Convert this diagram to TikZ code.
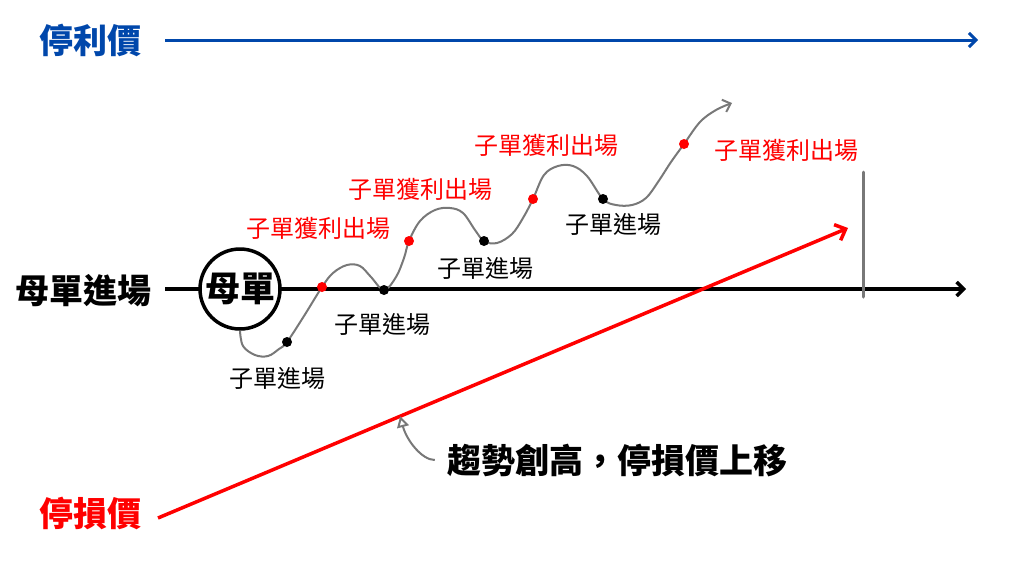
\documentclass[tikz,border=0pt]{standalone}
\usepackage{fontspec}
\setmainfont{Noto Sans CJK TC}
\usetikzlibrary{arrows.meta}
\definecolor{tpblue}{RGB}{0,71,171}
\definecolor{slred}{RGB}{255,0,0}
\definecolor{pathgray}{RGB}{120,120,120}
\tikzset{
  title/.style={font=\fontsize{34}{38}\selectfont\bfseries, inner sep=0pt},
  sublabel/.style={font=\fontsize{24}{26}\selectfont, inner sep=0pt},
  barb/.style={-{Straight Barb[length=7pt,width=14pt]}},
}
\begin{document}
\begin{tikzpicture}[x=1pt, y=-1pt]
\useasboundingbox (0,0) rectangle (1024,576);
% titles
\node[title, text=tpblue] (tp) at (90,40) {停利價};
\node[title] (entry) at (83,291) {母單進場};
\node[title, text=slred] (sl) at (90,513) {停損價};
\coordinate (tpend) at (978,40);
\coordinate (axisend) at (966,289);
\coordinate (slstart) at (158,518);
\coordinate (slend) at (848,228);
\coordinate (bartop) at (863,172);
\coordinate (barbot) at (863,297);
\draw[tpblue, line width=3pt, barb, shorten <=24pt] (tp.east) -- (tpend);
\draw[line width=3.5pt, barb, shorten <=14pt] (entry.east |- axisend) -- (axisend);
\draw[slred, line width=3.5pt, -{Straight Barb[length=9pt,width=17pt]}] (slstart) -- coordinate[pos=0.351] (hit) (slend);
\draw[pathgray, line width=3pt, line cap=round] (bartop) -- (barbot);
\node[circle, draw, fill=white, line width=3.5pt, minimum size=80pt, inner sep=0pt,
  font=\fontsize{35}{38}\selectfont\bfseries] (mom) at (240,289) {母單};
% price path
\coordinate (e1) at (287,342);
\coordinate (p1) at (322,287);
\coordinate (e2) at (384,290);
\coordinate (p2) at (409,241);
\coordinate (e3) at (484,241);
\coordinate (p3) at (533,199);
\coordinate (e4) at (603,199);
\coordinate (p4) at (684,144);
\draw[pathgray, line width=2pt, -{Straight Barb[length=7pt,width=13pt]}]
  plot[smooth, tension=0.6] coordinates {(mom.south) (243,346) (255,355) (268,356) (279,349)
  (e1) (304,316) (p1) (333,273) (347,265) (360,266) (371,277) (e2) (396,277) (404,258)
  (p2) (420,221) (435,210) (450,208) (463,213) (475,230) (e3) (497,243) (512,234) (523,218)
  (p3) (544,175) (558,166) (573,166) (587,176) (e4) (616,205) (632,205) (646,198) (658,182)
  (671,162) (p4) (700,122) (716,110) (732,103)};
\foreach \d in {e1,e2,e3,e4} \fill (\d) circle (5pt);
\foreach \d in {p1,p2,p3,p4} \fill[slred] (\d) circle (5pt);
\node[sublabel] (le1) at (277,378) {子單進場};
\node[sublabel] (le2) at (382,324) {子單進場};
\node[sublabel] (le3) at (485,268) {子單進場};
\node[sublabel] (le4) at (613,224) {子單進場};
\node[sublabel, text=slred] (lp1) at (318,228) {子單獲利出場};
\node[sublabel, text=slred] (lp2) at (420,189) {子單獲利出場};
\node[sublabel, text=slred] (lp3) at (546,145) {子單獲利出場};
\node[sublabel, text=slred] (lp4) at (786,150) {子單獲利出場};
% note
\node[title] (note) at (617,460) {趨勢創高，停損價上移};
\draw[pathgray, line width=2pt, shorten <=12pt, -{Triangle[open, length=11pt, width=12pt]}]
  (note.west) to[out=180, in=-75] (hit);
\end{tikzpicture}
\end{document}
